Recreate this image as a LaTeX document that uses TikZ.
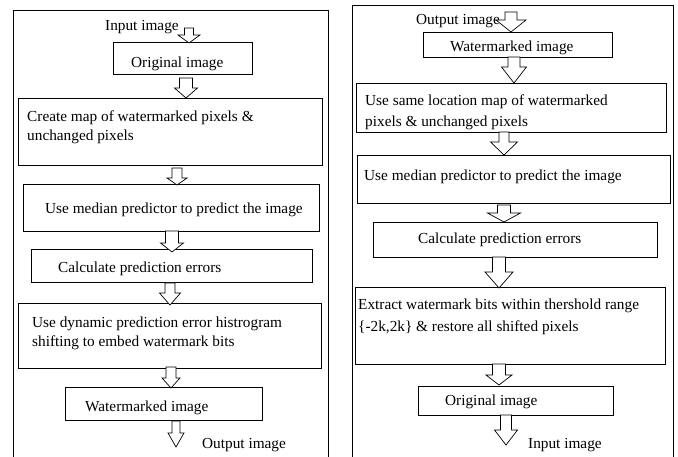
\documentclass[tikz,border=0pt]{standalone}
\usepackage{fontspec}
\setmainfont{Liberation Serif}
\usetikzlibrary{calc}
\tikzset{
  frame/.style={draw=black, line width=0.8pt},
  box/.style={draw=black, line width=0.8pt, rectangle, inner sep=0pt, anchor=north west},
  txt/.style={anchor=base west, inner sep=0pt, font=\fontsize{15.3pt}{19pt}\selectfont, text=black},
  hollow/.style={draw=black, line width=0.7pt, fill=white, line join=miter}
}
\newcommand\harrow[5]{%
  \draw[hollow] let \p1=(#1), \p2=(#2) in
    ($(\x1,\y1)+(-#3pt,0pt)$) -- ($(\x1,\y1)+(#3pt,0pt)$) -- ($(\x1,\y2)+(#3pt,#5pt)$) --
    ($(\x1,\y2)+(#4pt,#5pt)$) -- (\x1,\y2) -- ($(\x1,\y2)+(-#4pt,#5pt)$) --
    ($(\x1,\y2)+(-#3pt,#5pt)$) -- cycle;}
\begin{document}
\begin{tikzpicture}[x=1pt,y=-1pt]
\useasboundingbox (0,0) rectangle (678,457);
% outer frames
\draw[frame] (13,460) -- (13,10) -- (328,10) -- (328,460);
\draw[frame] (352,460) -- (352,5) -- (673,5) -- (673,460);

% ---------------- left column ----------------
\node[txt] (lin) at (105,31) {Input image};
\node[box, minimum width=139pt, minimum height=32pt] (lorig) at (113,42) {};
\node[txt] (lorigt) at (131,68) {Original image};
\node[box, minimum width=304pt, minimum height=67pt] (lmap) at (18,98) {};
\node[txt] (lmapa) at (27,122) {Create map of watermarked pixels \&};
\node[txt] (lmapb) at (27,141) {unchanged pixels};
\node[box, minimum width=296pt, minimum height=47pt] (lmed) at (23,184) {};
\node[txt] (lmedt) at (45,214) {Use median predictor to predict the image};
\node[box, minimum width=281pt, minimum height=33pt] (lcalc) at (31,249) {};
\node[txt] (lcalct) at (58,273) {Calculate prediction errors};
\node[box, minimum width=303pt, minimum height=65pt] (ldyn) at (18,303) {};
\node[txt] (ldyna) at (32,328) {Use dynamic prediction error histrogram};
\node[txt] (ldynb) at (32,347) {shifting to embed watermark bits};
\node[box, minimum width=197pt, minimum height=33pt] (lwm) at (65,387) {};
\node[txt] (lwmt) at (85,411) {Watermarked image};
\node[txt] (lout) at (202,448) {Output image};

\coordinate (la1s) at (189,28);  \coordinate (la1e) at (189,43);
\coordinate (la2s) at (186,78);  \coordinate (la2e) at (186,98);
\coordinate (la3s) at (177,168); \coordinate (la3e) at (177,185);
\coordinate (la4s) at (172,231); \coordinate (la4e) at (172,252);
\coordinate (la5s) at (170,283); \coordinate (la5e) at (170,305);
\coordinate (la6s) at (171,367); \coordinate (la6e) at (171,388);
\coordinate (la7s) at (176,421); \coordinate (la7e) at (176,447);
\harrow{la1s}{la1e}{4.5}{11}{8}
\harrow{la2s}{la2e}{6.5}{11.5}{10}
\harrow{la3s}{la3e}{5}{10}{7}
\harrow{la4s}{la4e}{6.5}{11.5}{9}
\harrow{la5s}{la5e}{5}{10.5}{12}
\harrow{la6s}{la6e}{5}{9}{10}
\harrow{la7s}{la7e}{4}{8}{14}

% ---------------- right column ----------------
\node[txt] (rout) at (416,25) {Output image};
\node[box, minimum width=189pt, minimum height=25pt] (rwm) at (423,32) {};
\node[txt] (rwmt) at (450,52) {Watermarked image};
\node[box, minimum width=310pt, minimum height=49pt] (rmap) at (356,83) {};
\node[txt] (rmapa) at (365,106) {Use same location map of watermarked};
\node[txt] (rmapb) at (365,127) {pixels \& unchanged pixels};
\node[box, minimum width=313pt, minimum height=48pt] (rmed) at (357,155) {};
\node[txt] (rmedt) at (364,181) {Use median predictor to predict the image};
\node[box, minimum width=284pt, minimum height=35pt] (rcalc) at (373,222) {};
\node[txt] (rcalct) at (418,244) {Calculate prediction errors};
\node[box, minimum width=310pt, minimum height=77pt] (rext) at (355,287) {};
\node[txt] (rexta) at (358,310) {Extract watermark bits within thershold range};
\node[txt] (rextb) at (358,332) {\{-2k,2k\} \& restore all shifted pixels};
\node[box, minimum width=195pt, minimum height=29pt] (rorig) at (418,386) {};
\node[txt] (rorigt) at (445,405) {Original image};
\node[txt] (rin) at (528,448) {Input image};

\coordinate (ra1s) at (511,12);  \coordinate (ra1e) at (511,32);
\coordinate (ra2s) at (514,57);  \coordinate (ra2e) at (514,83);
\coordinate (ra3s) at (504,132); \coordinate (ra3e) at (504,155);
\coordinate (ra4s) at (504,205); \coordinate (ra4e) at (504,222);
\coordinate (ra5s) at (499,257); \coordinate (ra5e) at (499,288);
\coordinate (ra6s) at (499,364); \coordinate (ra6e) at (499,385);
\coordinate (ra7s) at (506,415); \coordinate (ra7e) at (506,445);
\harrow{ra1s}{ra1e}{6}{15}{12}
\harrow{ra2s}{ra2e}{6}{12.5}{16}
\harrow{ra3s}{ra3e}{5}{13.5}{13}
\harrow{ra4s}{ra4e}{6.5}{16.5}{9}
\harrow{ra5s}{ra5e}{6.5}{14}{16}
\harrow{ra6s}{ra6e}{6.5}{13}{10}
\harrow{ra7s}{ra7e}{5.5}{11.5}{15}
\end{tikzpicture}
\end{document}
